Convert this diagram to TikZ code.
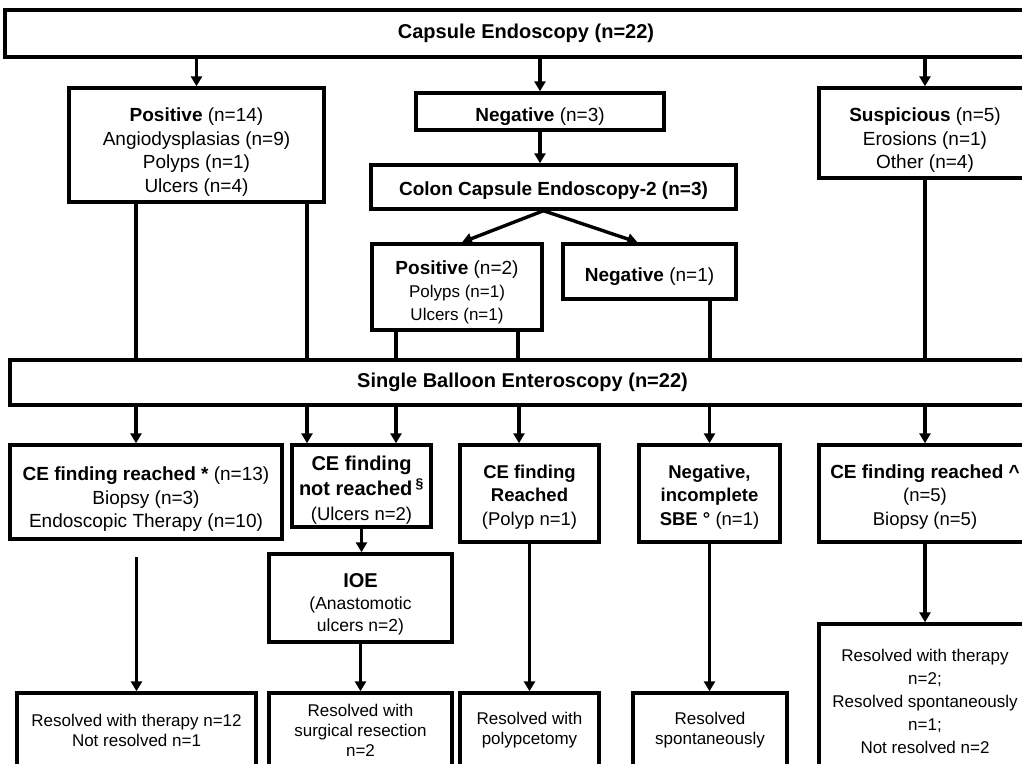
\documentclass[tikz,border=0pt]{standalone}
\usepackage{fontspec}
\setmainfont{Liberation Sans}
\usetikzlibrary{arrows.meta}
\newcommand\liftline[1]{\rule{0pt}{#1}}
\tikzset{
  box/.style={rectangle, draw=black, fill=white, line width=3.4pt,
              align=center, inner sep=1pt, font=\fontsize{19}{23.5}\selectfont},
  headbox/.style={box, font=\fontsize{20}{24}\selectfont\bfseries},
  outbox/.style={box, font=\fontsize{17}{20}\selectfont},
  arrow/.style={-{Triangle[length=10pt, width=11pt]}, draw=black, line width=3.4pt},
  link/.style={draw=black, line width=3.4pt},
}

\begin{document}
\begin{tikzpicture}[x=1pt, y=-1pt]
  \useasboundingbox (0,0) rectangle (1022,763);
  \clip (0,0) rectangle (1022,763);
  \fill[white] (0,0) rectangle (1022,763);

  % Capsule endoscopy
  \node[headbox, minimum width=1042, minimum height=47] (ce) at (526,33.5) {Capsule Endoscopy (n=22)};

  % CE results
  \node[box, minimum width=255, minimum height=114] (pos14) at (196.5,145)
    {\liftline{28pt}\textbf{Positive} (n=14)\\Angiodysplasias (n=9)\\Polyps (n=1)\\Ulcers (n=4)};
  \node[box, minimum width=248, minimum height=37] (neg3) at (540,111.5) {\liftline{24pt}\textbf{Negative} (n=3)};
  \node[box, minimum width=212, minimum height=90] (susp) at (925,133)
    {\liftline{28pt}\textbf{Suspicious} (n=5)\\Erosions (n=1)\\Other (n=4)};

  % Colon capsule
  \node[box, minimum width=365, minimum height=44] (cce2) at (553.5,187) {\liftline{20pt}\textbf{Colon Capsule Endoscopy-2 (n=3)}};
  \node[box, minimum width=170, minimum height=86, font=\fontsize{17}{23}\selectfont] (pos2) at (457,287)
    {\fontsize{19}{23}\selectfont\liftline{24pt}\textbf{Positive} (n=2)\\Polyps (n=1)\\Ulcers (n=1)};
  \node[box, minimum width=173, minimum height=55] (neg1) at (649.5,271.5) {\liftline{24pt}\textbf{Negative} (n=1)};

  % Enteroscopy
  \node[headbox, minimum width=1025, minimum height=45] (sbe) at (522.5,382.5) {Single Balloon Enteroscopy (n=22)};

  % SBE results
  \node[box, minimum width=272, minimum height=94] (cer13) at (146,492)
    {\liftline{28pt}\textbf{CE finding reached *} (n=13)\\Biopsy (n=3)\\Endoscopic Therapy (n=10)};
  \node[box, minimum width=139, minimum height=82, font=\fontsize{18.5}{25}\selectfont] (cenr) at (361.5,486)
    {\fontsize{20}{25}\selectfont\liftline{23pt}\textbf{CE finding}\\\fontsize{20}{25}\selectfont\textbf{not reached}\,\textsuperscript{\bfseries\S}\\(Ulcers n=2)};
  \node[box, minimum width=139, minimum height=97, font=\fontsize{18.5}{23.5}\selectfont] (cepol) at (529.5,493.5)
    {\liftline{20pt}\textbf{CE finding}\\\textbf{Reached}\\(Polyp n=1)};
  \node[box, minimum width=141, minimum height=97, font=\fontsize{18.5}{23.5}\selectfont] (negsbe) at (709.5,493.5)
    {\liftline{20pt}\textbf{Negative,}\\\textbf{incomplete}\\\textbf{SBE °} (n=1)};
  \node[box, minimum width=212, minimum height=97, font=\fontsize{18.5}{23.5}\selectfont] (cer5) at (925,493.5)
    {\fontsize{19}{23.5}\selectfont\liftline{20pt}\textbf{CE finding reached \textasciicircum}\\(n=5)\\Biopsy (n=5)};
  \node[box, minimum width=183, minimum height=88, font=\fontsize{17.5}{22}\selectfont] (ioe) at (360.5,598)
    {\fontsize{20}{22}\selectfont\liftline{26pt}\textbf{IOE}\\(Anastomotic\\ulcers n=2)};

  % Outcomes
  \node[outbox, minimum width=239, minimum height=74] (res12) at (136.5,730) {Resolved with therapy n=12\\Not resolved n=1};
  \node[outbox, minimum width=183, minimum height=74] (ressurg) at (360.5,730) {Resolved with\\surgical resection\\n=2};
  \node[outbox, minimum width=139, minimum height=74] (respol) at (529.5,730) {Resolved with\\polypcetomy};
  \node[outbox, minimum width=154, minimum height=74] (resspont) at (710,730) {Resolved\\spontaneously};
  \node[outbox, minimum width=212, minimum height=154, font=\fontsize{17}{23}\selectfont] (resfinal) at (925,701)
    {Resolved with therapy\\n=2;\\Resolved spontaneously\\n=1;\\Not resolved n=2};

  % Edges
  \draw[arrow] (pos14.north |- ce.south) -- (pos14.north);
  \draw[arrow] (neg3.north |- ce.south) -- (neg3.north);
  \draw[arrow] (susp.north |- ce.south) -- (susp.north);
  \draw[arrow] (neg3.south) -- (neg3.south |- cce2.north);

  \coordinate (split) at ([xshift=-10]cce2.south);
  \draw[arrow] (split) -- ([xshift=5]pos2.north);
  \draw[arrow] (split) -- ([xshift=-12]neg1.north);

  \coordinate (p14l) at ([xshift=-60.5]pos14.south);
  \coordinate (p14r) at ([xshift=110.5]pos14.south);
  \coordinate (p2l) at ([xshift=-61]pos2.south);
  \coordinate (p2r) at ([xshift=61]pos2.south);
  \coordinate (n1) at ([xshift=60.5]neg1.south);
  \draw[link] (p14l) -- (p14l |- sbe.north);
  \draw[link] (p14r) -- (p14r |- sbe.north);
  \draw[link] (p2l) -- (p2l |- sbe.north);
  \draw[link] (p2r) -- (p2r |- sbe.north);
  \draw[link] (n1) -- (n1 |- sbe.north);
  \draw[link] (susp.south) -- (susp.south |- sbe.north);

  \coordinate (a1) at ([xshift=-10]cer13.north);
  \coordinate (a2) at ([xshift=-54.5]cenr.north);
  \coordinate (a3) at ([xshift=34.5]cenr.north);
  \coordinate (a4) at ([xshift=-10.5]cepol.north);
  \draw[arrow] (sbe.south -| a1) -- (a1);
  \draw[arrow] (sbe.south -| a2) -- (a2);
  \draw[arrow] (sbe.south -| a3) -- (a3);
  \draw[arrow] (sbe.south -| a4) -- (a4);
  \draw[arrow] (sbe.south -| negsbe.north) -- (negsbe.north);
  \draw[arrow] (sbe.south -| cer5.north) -- (cer5.north);

  \coordinate (cer13gap) at (136.5,557);
  \draw[arrow] (cer13gap) -- (res12.north);
  \draw[arrow] (cenr.south) -- (cenr.south |- ioe.north);
  \draw[arrow] (ioe.south) -- (ressurg.north);
  \draw[arrow] (cepol.south) -- (respol.north);
  \draw[arrow] (negsbe.south) -- (negsbe.south |- resspont.north);
  \draw[arrow] (cer5.south) -- (resfinal.north);

\end{tikzpicture}
\end{document}
